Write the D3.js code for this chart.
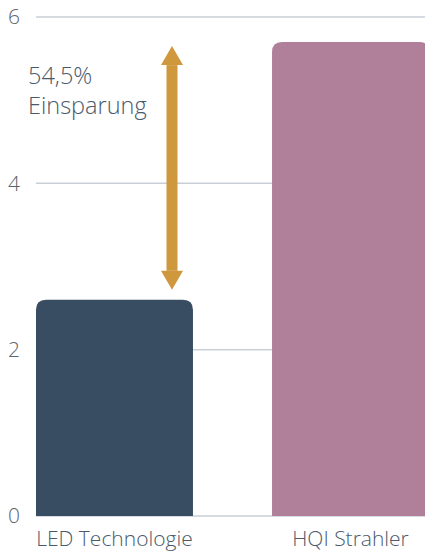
<!DOCTYPE html>
<html>
<head>
<meta charset="utf-8">
<script src="https://cdn.jsdelivr.net/npm/d3@7"></script>
<style>
  body { margin: 0; background: #fff; }
  text { font-family: "Open Sans", sans-serif; }
</style>
</head>
<body>
<div id="chart"></div>
<script>
// data
var categories = ["LED Technologie", "HQI Strahler"];
var values = [2.6, 5.7];
var barColors = ["#384d61", "#b07f99"];
var yTicks = [0, 2, 4, 6];
// savings arrow, in data units
var arrowFrom = 2.72;
var arrowTo = 5.65;
var savingLines = ["54,5%", "Einsparung"];

var svgWidth = 425;
var svgHeight = 555;

var svg = d3.select("#chart")
  .append("svg")
  .attr("width", svgWidth)
  .attr("height", svgHeight);

var x = d3.scaleBand()
  .domain(categories)
  .range([36, 429])
  .paddingInner(0.335)
  .paddingOuter(0);

var y = d3.scaleLinear()
  .domain([0, 6])
  .range([516, 17]);

// gridlines
svg.append("g")
  .selectAll("line")
  .data(yTicks)
  .enter()
  .append("line")
  .attr("x1", 36)
  .attr("x2", svgWidth)
  .attr("y1", d => y(d))
  .attr("y2", d => y(d))
  .attr("stroke", "#c9cfd7")
  .attr("stroke-width", 1.5);

// y tick labels
svg.append("g")
  .selectAll("text")
  .data(yTicks)
  .enter()
  .append("text")
  .attr("x", 20)
  .attr("y", d => y(d))
  .attr("dy", "0.35em")
  .attr("text-anchor", "end")
  .attr("fill", "#5b636b")
  .attr("font-size", "21px")
  .attr("font-weight", 300)
  .text(d => d);

// bars with rounded top corners
function barPath(x0, w, yTop, yBottom, r) {
  return "M" + x0 + "," + yBottom +
    "V" + (yTop + r) +
    "Q" + x0 + "," + yTop + " " + (x0 + r) + "," + yTop +
    "H" + (x0 + w - r) +
    "Q" + (x0 + w) + "," + yTop + " " + (x0 + w) + "," + (yTop + r) +
    "V" + yBottom + "Z";
}

svg.append("g")
  .selectAll("path")
  .data(categories)
  .enter()
  .append("path")
  .attr("d", (d, i) => barPath(x(d), x.bandwidth(), y(values[i]), y(0), 10))
  .attr("fill", (d, i) => barColors[i]);

// x labels
svg.append("g")
  .selectAll("text")
  .data(categories)
  .enter()
  .append("text")
  .attr("x", d => x(d) + x.bandwidth() / 2)
  .attr("y", 546)
  .attr("text-anchor", "middle")
  .attr("fill", "#4a5a6a")
  .attr("font-size", "21px")
  .attr("font-weight", 300)
  .text(d => d);

// double arrow
var ax = 172;
var headH = 19;
var headW = 22;
var shaftW = 11;
var arrowColor = "#cf983c";
var yT = y(arrowTo);
var yB = y(arrowFrom);

var arrow = svg.append("g");
arrow.append("rect")
  .attr("x", ax - shaftW / 2)
  .attr("y", yT + headH)
  .attr("width", shaftW)
  .attr("height", yB - yT - 2 * headH)
  .attr("fill", arrowColor);
arrow.append("path")
  .attr("d", "M" + ax + "," + yT + "L" + (ax + headW / 2) + "," + (yT + headH) + "L" + (ax - headW / 2) + "," + (yT + headH) + "Z")
  .attr("fill", arrowColor);
arrow.append("path")
  .attr("d", "M" + ax + "," + yB + "L" + (ax + headW / 2) + "," + (yB - headH) + "L" + (ax - headW / 2) + "," + (yB - headH) + "Z")
  .attr("fill", arrowColor);

// savings text
svg.append("g")
  .selectAll("text")
  .data(savingLines)
  .enter()
  .append("text")
  .attr("x", 28)
  .attr("y", (d, i) => 84 + i * 30)
  .attr("fill", "#4a5a6a")
  .attr("font-size", "23.5px")
  .attr("font-weight", 300)
  .text(d => d);
</script>
</body>
</html>
